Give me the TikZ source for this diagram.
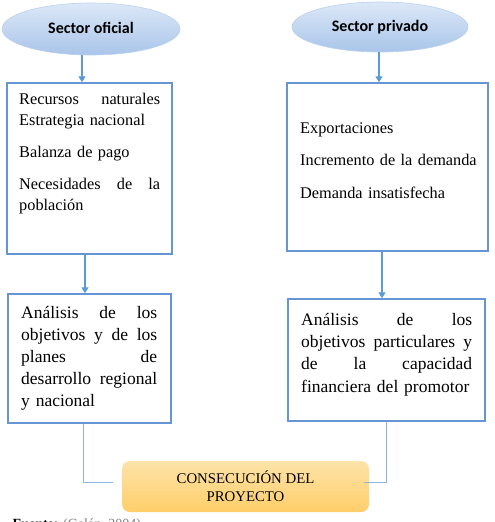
\documentclass[tikz,border=0pt]{standalone}
\usepackage{fontspec}
\setmainfont{Liberation Serif}
\newfontfamily\calib{Carlito}
\usetikzlibrary{arrows.meta,calc,shapes.geometric}
\definecolor{arrowblue}{HTML}{5B9BD5}
\definecolor{boxblue}{HTML}{6596D3}
\definecolor{thinblue}{HTML}{8DB3E2}
\definecolor{elltop}{HTML}{DCE8F7}
\definecolor{ellbot}{HTML}{A9C5E9}
\definecolor{orgtop}{HTML}{FDE3A8}
\definecolor{orgbot}{HTML}{FFCE6A}
\definecolor{srcgray}{HTML}{7F7F7F}
\begin{document}
\begin{tikzpicture}[x=1pt,y=-1pt,
 sector/.style={ellipse, minimum width=178, minimum height=52, top color=elltop, bottom color=ellbot, draw=ellbot!80!white, line width=0.6pt, font=\calib\bfseries\fontsize{16}{18}\selectfont, text height=11pt, text depth=3pt, inner sep=0},
 blbox/.style={draw=boxblue, line width=1.5pt, rectangle, inner sep=0},
 txtA/.style={anchor=base west, inner sep=0, align=left, font=\fontsize{16.3}{21}\selectfont},
 txtB/.style={anchor=base west, inner sep=0, align=left, font=\fontsize{17.5}{22.2}\selectfont},
 arr/.style={draw=arrowblue, line width=1.3pt, -{Triangle[width=7pt,length=6pt]}},
 joint/.style={draw=thinblue, line width=0.9pt},
 goal/.style={rounded corners=8pt, top color=orgtop, bottom color=orgbot, minimum width=247, minimum height=51, inner sep=0, align=center, font=\fontsize{14.8}{17.6}\selectfont}
]
\fill[white] (0,0) rectangle (495,522);
\useasboundingbox (0,0) rectangle (495,522);

\node[sector] (e1) at (91,29) {Sector oficial};
\node[sector, minimum width=176, minimum height=50] (e2) at (380,27) {Sector privado};

\node[blbox, minimum width=165, minimum height=171] (b1) at (89.5,168.5) {};
\node[blbox, minimum width=201, minimum height=168] (b2) at (387.5,167) {};
\node[blbox, minimum width=163, minimum height=129] (b3) at (89.5,358.5) {};
\node[blbox, minimum width=197, minimum height=122] (b4) at (386.5,360) {};
\node[goal] (goal) at (245.5,486.5) {CONSECUCIÓN DEL\\PROYECTO};

\node[txtA, text width=141] (t1) at (19,104) {Recursos\hfill naturales\\ Estrategia nacional\\[11pt] Balanza de pago\\[11pt] Necesidades\hfill de\hfill la\\ población};
\node[txtA, text width=180] (t2) at (300,133) {Exportaciones\\[11.5pt] Incremento de la demanda\\[11.5pt] Demanda insatisfecha};
\node[txtB, text width=136] (t3) at (21,318) {Análisis\hfill de\hfill los\\ objetivos\hfill y\hfill de\hfill los\\ planes\hfill de\\ desarrollo\hfill regional\\ \mbox{y nacional}};
\node[txtB, text width=171] (t4) at (301,325.5) {Análisis\hfill de\hfill los\\ objetivos\hfill particulares\hfill y\\ de\hfill la\hfill capacidad\\ \mbox{financiera del promotor}};

\coordinate (xa) at (82,0);
\coordinate (xb) at (85,0);
\coordinate (xc) at (379,0);
\coordinate (xd) at (382,0);
\coordinate (xe) at (83,0);
\coordinate (xf) at (386,0);
\draw[arr] (e1.south -| xa) -- (b1.north -| xa);
\draw[arr] (b1.south -| xb) -- (b3.north -| xb);
\draw[arr] (e2.south -| xc) -- (b2.north -| xc);
\draw[arr] (b2.south -| xd) -- (b4.north -| xd);
\draw[joint] (b3.south -| xe) |- ($(goal.west)+(-9,-4.5)$);
\draw[joint] (b4.south -| xf) |- ($(goal.east)+(-5,-4.5)$);

\node[anchor=base west, inner sep=0, font=\fontsize{14}{16}\selectfont] (src) at (12.5,528.5) {\textbf{Fuente:} \textcolor{srcgray}{(Galán, 2004)}};
\end{tikzpicture}
\end{document}
